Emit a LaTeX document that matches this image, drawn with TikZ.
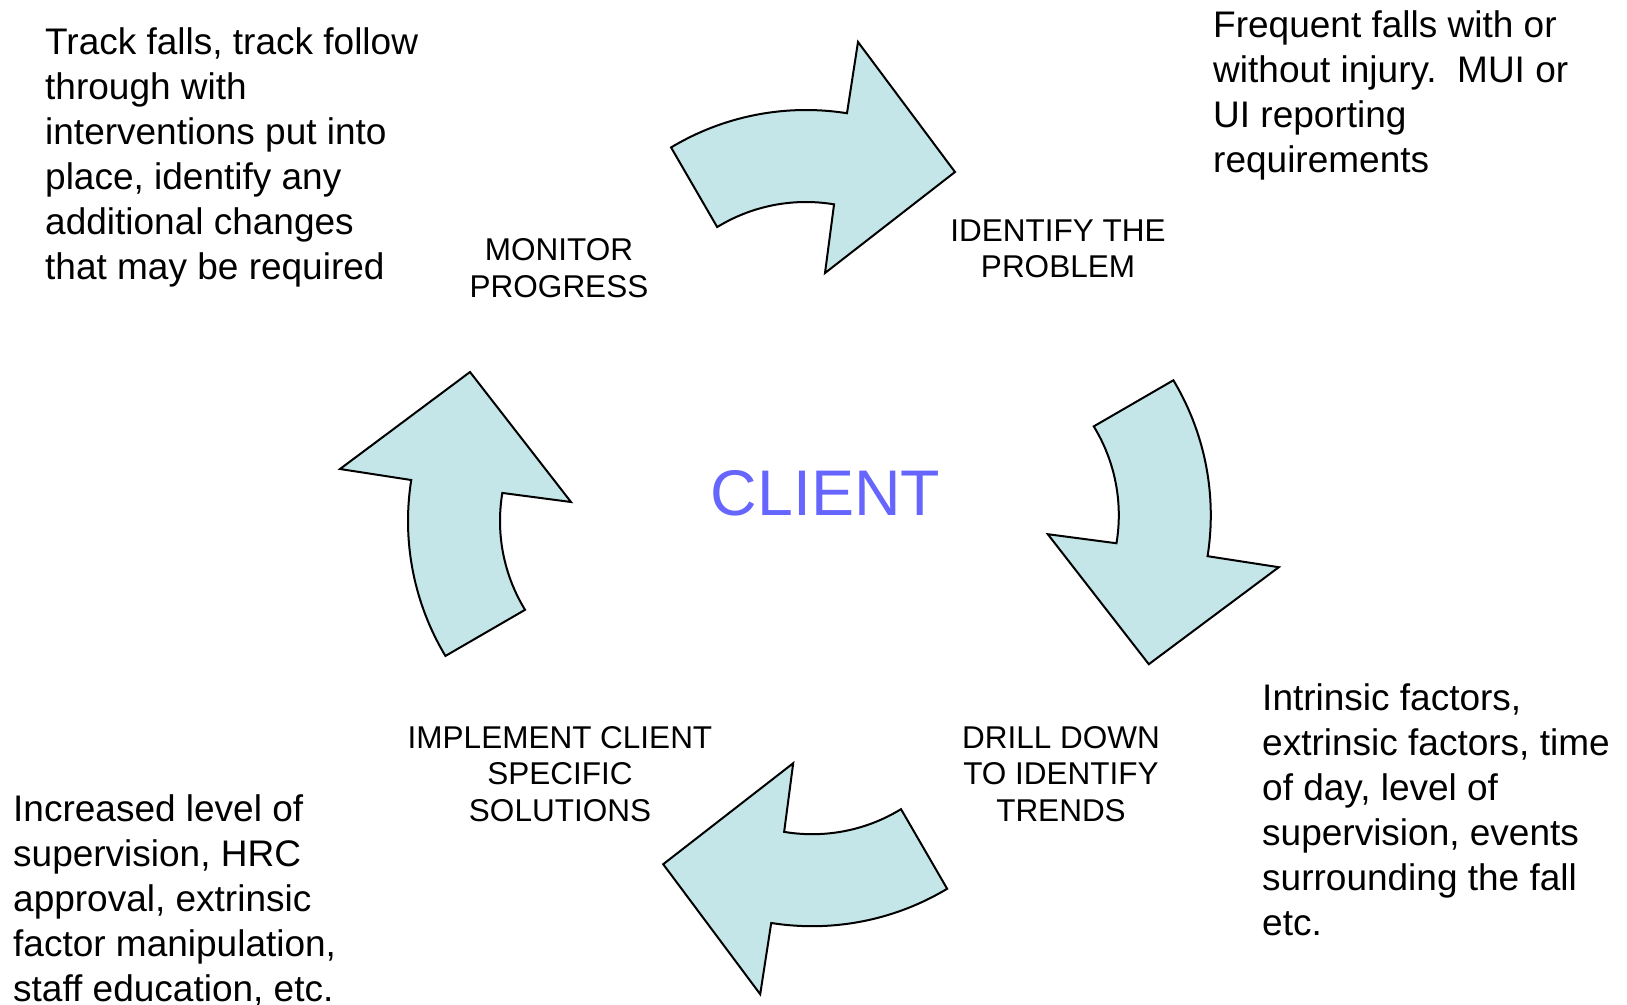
\documentclass[tikz,border=0pt]{standalone}
\usepackage{fontspec}
\setmainfont{Liberation Sans}
\definecolor{arrowfill}{RGB}{196,230,232}
\definecolor{clientblue}{RGB}{102,102,255}
\newcommand\cyclearrowpath[1]{%
  \path[bigarrow,#1]
    plot[domain=-121:-81,samples=40] ({806+262*cos(\x)},{372+262*sin(\x)})
    -- (858,42) -- (955,172) -- (825,273)
    -- plot[domain=-80.5:-121.5,samples=40] ({806+170*cos(\x)},{372+170*sin(\x)})
    -- cycle;}
\begin{document}
\begin{tikzpicture}[x=1pt,y=-1pt,
  bigarrow/.style={fill=arrowfill,draw=black,line width=2pt,line join=miter},
  sidetext/.style={font=\fontsize{37}{45}\selectfont,align=left,anchor=base west,inner sep=0pt},
  steplabel/.style={font=\fontsize{31.5}{36.5}\selectfont,align=center,anchor=base,inner sep=0pt},
  centertext/.style={font=\fontsize{64.5}{70}\selectfont,text=clientblue,anchor=base,inner sep=0pt}]
\useasboundingbox (0,0) rectangle (1627,1004);
% arrows
\cyclearrowpath{}
\cyclearrowpath{rotate around={-90:(805.8,515)}}
\cyclearrowpath{rotate around={180:(809.1,518.1)}}
\cyclearrowpath{rotate around={90:(812.5,514.5)}}
% centre
\node[centertext] (client) at (825.5,515) {CLIENT};
% step labels (anchored at the baseline of the last line)
\node[steplabel] (identify) at (1058,277.5) {IDENTIFY THE\\PROBLEM};
\node[steplabel] (drill) at (1061,821) {DRILL DOWN\\TO IDENTIFY\\TRENDS};
\node[steplabel] (implement) at (560,821) {IMPLEMENT CLIENT\\SPECIFIC\\SOLUTIONS};
\node[steplabel] (monitor) at (559,297) {MONITOR\\PROGRESS};
% notes (anchored at the baseline of the last line)
\node[sidetext] (monitornote) at (45,279) {Track falls, track follow\\through with\\interventions put into\\place, identify any\\additional changes\\that may be required};
\node[sidetext] (identifynote) at (1213,172) {Frequent falls with or\\without injury.\ \ MUI or\\UI reporting\\requirements};
\node[sidetext] (drillnote) at (1262,935) {Intrinsic factors,\\extrinsic factors, time\\of day, level of\\supervision, events\\surrounding the fall\\etc.};
\node[sidetext] (implementnote) at (13,1001) {Increased level of\\supervision, HRC\\approval, extrinsic\\factor manipulation,\\staff education, etc.};
\end{tikzpicture}
\end{document}
